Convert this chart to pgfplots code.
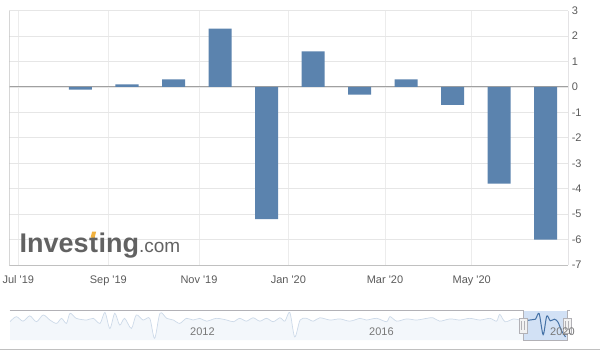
\documentclass[border=0pt]{standalone}
\usepackage{pgfplots}
\usepackage{pgfplotstable}
\pgfplotsset{compat=1.18}
\usepackage{fontspec}
\setmainfont{Liberation Sans}
\definecolor{barblue}{RGB}{91,131,174}
\definecolor{gridc}{RGB}{230,230,230}
\definecolor{vgrid}{RGB}{236,236,236}
\definecolor{axc}{RGB}{192,192,192}
\definecolor{zeroc}{RGB}{160,160,160}
\definecolor{lblc}{RGB}{90,90,90}
\definecolor{logoc}{RGB}{98,98,98}
\definecolor{logoor}{RGB}{242,178,62}
\definecolor{navline}{RGB}{205,218,233}
\definecolor{navfill}{RGB}{243,247,251}
\definecolor{maskc}{RGB}{210,225,245}
\definecolor{navsel}{RGB}{69,114,167}
\definecolor{outc}{RGB}{178,177,182}
\definecolor{navlbl}{RGB}{120,120,120}

\pgfplotstableread{
x y
1 -0.1
2 0.1
3 0.3
4 2.3
5 -5.2
6 1.4
7 -0.3
8 0.3
9 -0.7
10 -3.8
11 -6.0
}\maindata

\pgfplotstableread{
x y
2008.05 -0.6
2008.19 1.2
2008.34 -0.4
2008.49 1.5
2008.64 -0.6
2008.79 1.8
2008.94 0
2009.09 -1.2
2009.20 0.6
2009.31 -1.2
2009.39 2.4
2009.53 0.6
2009.76 0
2009.91 0.6
2010.06 -1.2
2010.17 2.7
2010.28 -3
2010.39 2.4
2010.50 -1.8
2010.61 0.6
2010.76 -3
2010.87 1.8
2011.02 0
2011.17 0.6
2011.28 -6.5
2011.40 2.4
2011.55 0.6
2011.70 0
2011.84 -1.2
2011.99 0.6
2012.14 0
2012.29 0.6
2012.44 -0.4
2012.66 0.6
2012.89 0
2013.04 -0.6
2013.18 0.6
2013.33 -0.4
2013.48 0.8
2013.63 -0.4
2013.78 0.6
2013.93 -0.6
2014.08 0.8
2014.19 -0.4
2014.30 2.7
2014.41 -6
2014.53 0
2014.67 0.6
2014.82 -0.4
2014.97 0.8
2015.20 0
2015.42 0.4
2015.64 -0.4
2015.87 0.6
2016.01 0
2016.24 0.6
2016.46 -0.6
2016.54 1.2
2016.69 -0.4
2016.91 0.4
2017.13 0
2017.36 0.6
2017.50 0.8
2017.65 -0.4
2017.88 0.4
2018.10 0
2018.32 0.6
2018.55 0
2018.77 0.6
2018.92 -0.4
2018.99 2
2019.11 -0.6
2019.30 0.4
2019.44 0
2019.54 0
2019.62 -0.1
2019.71 0.1
2019.79 0.3
2019.87 2.3
2019.96 -5.2
2020.04 1.4
2020.12 -0.3
2020.21 0.3
2020.29 -0.7
2020.37 -3.8
2020.46 -6.0
}\navdata

\pgfplotstableread{
x y
2019.51 0
2019.54 0
2019.62 -0.1
2019.71 0.1
2019.79 0.3
2019.87 2.3
2019.96 -5.2
2020.04 1.4
2020.12 -0.3
2020.21 0.3
2020.29 -0.7
2020.37 -3.8
2020.46 -6.0
}\seldata

\begin{document}
\begin{tikzpicture}[x=1bp,y=1bp]
\useasboundingbox (0,0) rectangle (600,-350);
\begin{axis}[
  at={(9.3bp,-10.7bp)}, anchor=north west,
  scale only axis, width=559bp, height=254.3bp,
  xmin=-0.531, xmax=11.49, ymin=-7, ymax=3,
  axis line style={draw=none},
  major tick length=0pt,
  xtick={-0.338,1.598,3.548,5.469,7.548,9.413},
  xticklabels={Jul \textquotesingle19, Sep \textquotesingle19, Nov \textquotesingle19, Jan \textquotesingle20, Mar \textquotesingle20, May \textquotesingle20},
  ytick={-7,-6,-5,-4,-3,-2,-1,0,1,2,3},
  yticklabels={-7,-6,-5,-4,-3,-2,-1,0,1,2,3},
  yticklabel pos=right,
  xmajorgrids, ymajorgrids,
  x grid style={vgrid, line width=0.8bp},
  y grid style={gridc, line width=0.8bp},
  every tick label/.append style={font=\fontsize{11bp}{13bp}\selectfont, text=lblc},
  xticklabel style={anchor=base, yshift=-18bp},
  yticklabel style={anchor=west},
]
\draw[zeroc, line width=1bp] (rel axis cs:0,0.7) -- (rel axis cs:1,0.7);
\addplot[ybar, bar width=23bp, fill=barblue, draw=none] table[x=x,y=y] {\maindata};
\draw[axc, line width=0.8bp] (rel axis cs:0,1) -- (rel axis cs:0,0) -- (rel axis cs:1,0);
\draw[outc, line width=1bp] (rel axis cs:1,1) -- (rel axis cs:1,0);
\end{axis}

\begin{scope}[every node/.style={inner sep=0, text=logoc}]
\node[anchor=base west] (lA) at (19.5bp,-252.7bp) {\fontsize{27bp}{28bp}\selectfont\bfseries Inves};
\node[anchor=base west] (lB) at (lA.base east) {\fontsize{27bp}{28bp}\selectfont\bfseries t};
\node[anchor=base west] (lC) at (lB.base east) {\fontsize{27bp}{28bp}\selectfont\bfseries ing\fontsize{19bp}{20bp}\selectfont\mdseries .com};
\fill[logoor] ([xshift=1.6bp,yshift=15bp]lB.base west) -- ([xshift=3.2bp,yshift=21bp]lB.base west) -- ([xshift=7.2bp,yshift=21bp]lB.base west) -- ([xshift=5.6bp,yshift=15bp]lB.base west) -- cycle;
\end{scope}

\begin{axis}[
  at={(9.6bp,-311bp)}, anchor=north west,
  scale only axis, width=560.4bp, height=29bp,
  xmin=2008.04, xmax=2020.56, ymin=-7.1, ymax=3.2,
  axis lines=none, xtick=\empty, ytick=\empty,
]
\addplot[fill=navfill, draw=none, smooth, tension=0.5] table[x=x,y=y] {\navdata}
  -- (axis cs:2020.46,-7.1) -- (axis cs:2008.05,-7.1) -- cycle;
\fill[maskc] (axis cs:2019.51,-7.1) rectangle (axis cs:2020.49,3.2);
\addplot[navline, line width=0.7bp, smooth, tension=0.5] table[x=x,y=y] {\navdata};
\addplot[navsel, line width=1bp, smooth, tension=0.5] table[x=x,y=y] {\seldata};
\end{axis}

\draw[outc, line width=1bp] (9.6,-310.5) -- (523,-310.5) -- (523,-340) -- (567,-340) -- (567,-310.5) -- (570,-310.5);
\foreach \hx in {523,567} {
  \draw[outc, fill={rgb,255:red,242;green,242;blue,242}, line width=0.8bp] (\hx-4,-318) rectangle (\hx+4,-333);
  \draw[outc, line width=0.6bp] (\hx-1.3,-321) -- (\hx-1.3,-330);
  \draw[outc, line width=0.6bp] (\hx+1.3,-321) -- (\hx+1.3,-330);
}
\begin{scope}[every node/.style={anchor=base west, inner sep=0, text=navlbl, font=\fontsize{11bp}{13bp}\selectfont}]
\node at (190,-335) {2012};
\node at (369,-335) {2016};
\node at (550,-335) {2020};
\end{scope}
\draw[axc, line width=1bp] (0,-349.5) -- (600,-349.5);
\end{tikzpicture}
\end{document}
